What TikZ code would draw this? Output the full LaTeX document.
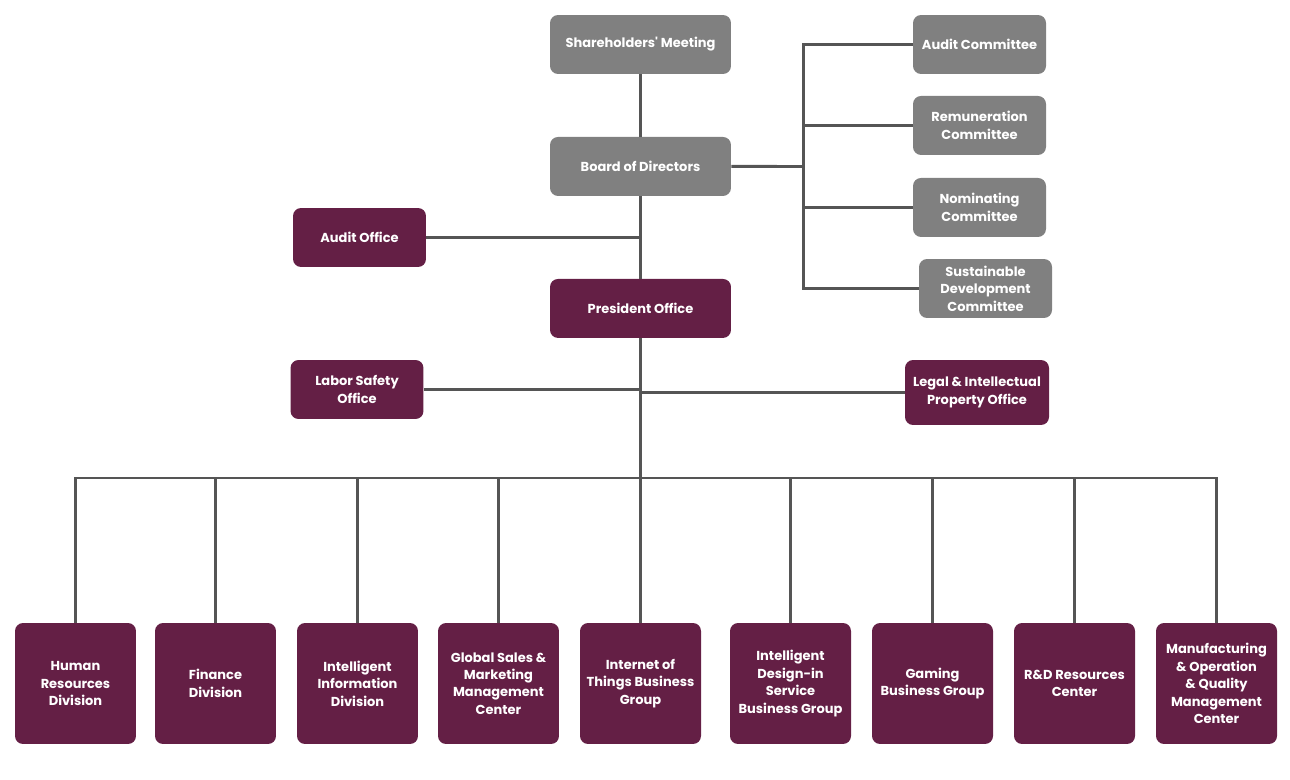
\documentclass[tikz,border=0pt]{standalone}
\usepackage{fontspec}
\setmainfont{Poppins}
\usetikzlibrary{positioning}
\definecolor{boxgray}{HTML}{808080}
\definecolor{boxwine}{HTML}{641F45}
\definecolor{linegray}{HTML}{555555}

\begin{document}
\begin{tikzpicture}[x=0.02cm, y=-0.02cm, on grid,
    box/.style={draw=none, rounded corners=0.16cm, text=white, align=center,
      inner sep=0pt, font=\bfseries\fontsize{7.4}{9.9}\selectfont},
    grey/.style={box, fill=boxgray},
    wine/.style={box, fill=boxwine},
    wide/.style={minimum width=3.62cm, minimum height=1.18cm},
    small/.style={minimum width=2.66cm, minimum height=1.18cm},
    unit/.style={wine, minimum width=2.42cm, minimum height=2.42cm},
    link/.style={draw=linegray, line width=1.7pt}]
  \useasboundingbox (0,0) rectangle (1290,780);

  % main column
  \node[grey, wide] (share) at (640.5,44.5) {Shareholders\textquotesingle\ Meeting};
  \node[grey, wide, below=2.44cm of share] (board) {Board of Directors};
  \node[wine, wide, below=2.84cm of board] (pres) {President Office};

  % committees
  \node[grey, small] (acom) at (979.5,44.5) {Audit Committee};
  \node[grey, small, below=1.62cm of acom] (rcom) {Remuneration\\Committee};
  \node[grey, small, below=1.64cm of rcom] (ncom) {Nominating\\Committee};
  \node[grey, small] (scom) at (985.5,288.5) {Sustainable\\Development\\Committee};

  % offices
  \node[wine, small] (aoff) at (359.5,237.5) {Audit Office};
  \node[wine, small] (labor) at (357,389.5) {Labor Safety\\Office};
  \node[wine, minimum width=2.88cm, minimum height=1.3cm] (legal) at (977,392.5)
    {Legal \& Intellectual\\Property Office};

  \draw[link] (share) -- (board);
  \draw[link] (board) -- (pres);
  \draw[link] (aoff) -- (aoff -| pres);

  \coordinate (cbus) at (803,166.5);
  \draw[link] (board) -- (cbus);
  \draw[link] (acom) -| (cbus) |- (scom);
  \draw[link] (rcom) -- (rcom -| cbus);
  \draw[link] (ncom) -- (ncom -| cbus);

  \draw[link] (labor) -- (labor -| pres);
  \draw[link] (legal) -- (legal -| pres);

  % divisions
  \coordinate (bus) at (640.5,478);
  \foreach \name/\x/\txt in {
      hr/75.5/{Human\\Resources\\Division},
      fin/215.5/{Finance\\Division},
      iid/357.5/{Intelligent\\Information\\Division},
      gsm/498.5/{Global Sales \&\\Marketing\\Management\\Center},
      iot/640.5/{Internet of\\Things Business\\Group},
      ids/790.5/{Intelligent\\Design-in\\Service\\Business Group},
      gbg/932.5/{Gaming\\Business Group},
      rdc/1074.5/{R\&D Resources\\Center},
      mfg/1216.5/{Manufacturing\\\& Operation\\\& Quality\\Management\\Center}}
    \node[unit] (\name) at (\x,683.5) {\txt};

  \draw[link] (pres) -- (bus);
  \draw[link] (hr) |- (bus) -| (mfg);
  \foreach \name in {fin,iid,gsm,iot,ids,gbg,rdc}
    \draw[link] (\name.north |- bus) -- (\name);
\end{tikzpicture}
\end{document}
